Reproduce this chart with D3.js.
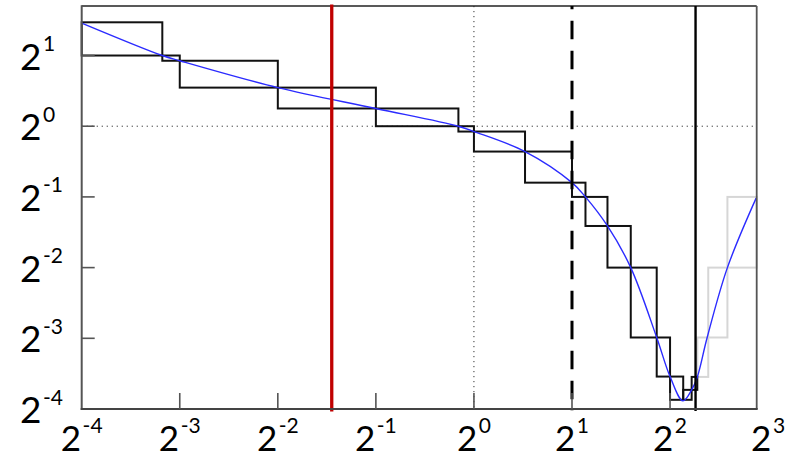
<!DOCTYPE html>
<html><head><meta charset="utf-8">
<script src="https://cdn.jsdelivr.net/npm/d3@7"></script>
<style>body{margin:0;background:#fff}svg{display:block}</style>
</head><body>
<svg id="c" width="796" height="458"></svg>
<script>
// ---- data ----
const xTickExp = [-4, -3, -2, -1, 0, 1, 2, 3];
const yTickExp = [-4, -3, -2, -1, 0, 1];
const xDomain = [0.0625, 7.38];
const yDomain = [0.0625, 3.25];

// staircase breakpoints (points on the curve)
const stepX = [0.0625, 0.1105, 0.125, 0.25, 0.5, 0.896, 1.0, 1.435, 2.0, 2.20, 2.57, 3.03, 3.64, 4.0, 4.39, 4.66, 4.85, 5.24, 6.00, 7.38];
const stepY = [2.77, 2.0, 1.90, 1.46, 1.19, 1.0, 0.949, 0.78, 0.575, 0.5, 0.376, 0.25, 0.126, 0.0859, 0.0684, 0.0754, 0.0856, 0.126, 0.25, 0.5];

// smooth blue curve samples
const curveX = [0.0625, 0.1105, 0.125, 0.25, 0.5, 0.896, 1.0, 1.435, 2.0, 2.20, 2.57, 3.03, 3.64, 4.0, 4.38, 4.66, 4.85, 5.20, 6.00, 7.35];
const curveY = [2.75, 2.0, 1.90, 1.46, 1.19, 1.0, 0.949, 0.78, 0.575, 0.5, 0.376, 0.25, 0.126, 0.0859, 0.0677, 0.0754, 0.0856, 0.126, 0.25, 0.494];

// vertical marker lines
const redLineX = 0.366;
const dashedLineX = 2;
const cutoffX = 4.79;

// ---- drawing ----
const svg = d3.select("#c");
const L = 81.7, R = 756.7, T = 6, B = 409;
const x = d3.scaleLog().base(2).domain(xDomain).range([L, R]);
const y = d3.scaleLog().base(2).domain(yDomain).range([B, T]);

// dotted grid lines at 2^0
svg.append("line").attr("x1", L).attr("x2", R).attr("y1", y(1)).attr("y2", y(1))
  .attr("stroke", "#333").attr("stroke-width", 1).attr("stroke-dasharray", "1.2,3.8");
svg.append("line").attr("x1", x(1)).attr("x2", x(1)).attr("y1", T).attr("y2", B)
  .attr("stroke", "#333").attr("stroke-width", 1).attr("stroke-dasharray", "1.2,3.8");

// staircase rectangles (grey beyond the cutoff line)
const rects = d3.range(stepX.length - 1).map(i => ({
  x0: stepX[i], x1: stepX[i + 1],
  ya: stepY[i], yb: stepY[i + 1]
}));
const greyFirst = rects.slice().sort((a, b) => (b.x0 >= cutoffX) - (a.x0 >= cutoffX));
svg.append("g").selectAll("rect").data(greyFirst).join("rect")
  .attr("x", d => x(d.x0))
  .attr("width", d => x(d.x1) - x(d.x0))
  .attr("y", d => y(Math.max(d.ya, d.yb)))
  .attr("height", d => y(Math.min(d.ya, d.yb)) - y(Math.max(d.ya, d.yb)))
  .attr("fill", "none")
  .attr("stroke", d => d.x0 >= cutoffX ? "#d6d6d6" : "#111")
  .attr("stroke-width", 2);

// blue curve
const pts = curveX.map((v, i) => [v, curveY[i]]);
svg.append("path").datum(pts)
  .attr("d", d3.line().x(d => x(d[0])).y(d => y(d[1])).curve(d3.curveCatmullRom.alpha(0.5)))
  .attr("fill", "none").attr("stroke", "#2b2bff").attr("stroke-width", 1.4);

// frame
svg.append("line").attr("x1", L).attr("x2", R).attr("y1", T).attr("y2", T).attr("stroke", "#222").attr("stroke-width", 1.6);
svg.append("line").attr("x1", R).attr("x2", R).attr("y1", T).attr("y2", B).attr("stroke", "#555").attr("stroke-width", 1.8);

// vertical markers
svg.append("line").attr("x1", x(redLineX)).attr("x2", x(redLineX)).attr("y1", 4.5).attr("y2", 411.5)
  .attr("stroke", "#c00000").attr("stroke-width", 3.3);
svg.append("line").attr("x1", x(dashedLineX)).attr("x2", x(dashedLineX)).attr("y1", T).attr("y2", 411)
  .attr("stroke", "#000").attr("stroke-width", 3).attr("stroke-dasharray", "18.6,11.4").attr("stroke-dashoffset", 15.3);
svg.append("line").attr("x1", x(cutoffX)).attr("x2", x(cutoffX)).attr("y1", T).attr("y2", 411)
  .attr("stroke", "#000").attr("stroke-width", 2.4);

// axes lines
svg.append("line").attr("x1", L).attr("x2", L).attr("y1", T - 0.8).attr("y2", B + 1).attr("stroke", "#555").attr("stroke-width", 2);
svg.append("line").attr("x1", L - 1).attr("x2", R + 1).attr("y1", B).attr("y2", B).attr("stroke", "#444").attr("stroke-width", 2);

// tick marks
const xIn = xTickExp.filter(e => Math.pow(2, e) > xDomain[0] && Math.pow(2, e) < xDomain[1]);
svg.append("g").selectAll("line").data(xIn).join("line")
  .attr("x1", e => x(Math.pow(2, e))).attr("x2", e => x(Math.pow(2, e)))
  .attr("y1", B).attr("y2", B - 16).attr("stroke", "#555").attr("stroke-width", 1.6);
const yIn = yTickExp.filter(e => Math.pow(2, e) > yDomain[0] && Math.pow(2, e) < yDomain[1]);
svg.append("g").selectAll("line").data(yIn).join("line")
  .attr("y1", e => y(Math.pow(2, e))).attr("y2", e => y(Math.pow(2, e)))
  .attr("x1", L).attr("x2", L + 13).attr("stroke", "#555").attr("stroke-width", 1.6);

// tick labels
const FONT = "Lato, 'Open Sans', 'DejaVu Sans', sans-serif";
function label(g, e, baseSize, supSize, rise) {
  g.append("tspan").text("2").attr("font-size", baseSize);
  g.append("tspan").text(String(e)).attr("font-size", supSize).attr("dy", -rise).attr("dx", 1.5);
}
const xl = svg.append("g");
xTickExp.forEach(e => {
  const t = xl.append("text").attr("x", x(Math.pow(2, e))).attr("y", 450.5)
    .attr("text-anchor", "middle").attr("font-family", FONT).attr("fill", "#000");
  label(t, e, 35, 21, 18);
});
const yl = svg.append("g");
yTickExp.forEach(e => {
  const t = yl.append("text").attr("x", 20).attr("y", y(Math.pow(2, e)) + 14)
    .attr("text-anchor", "start").attr("font-family", FONT).attr("fill", "#000");
  label(t, e, 37, 21, 18.5);
});
</script>
</body></html>
